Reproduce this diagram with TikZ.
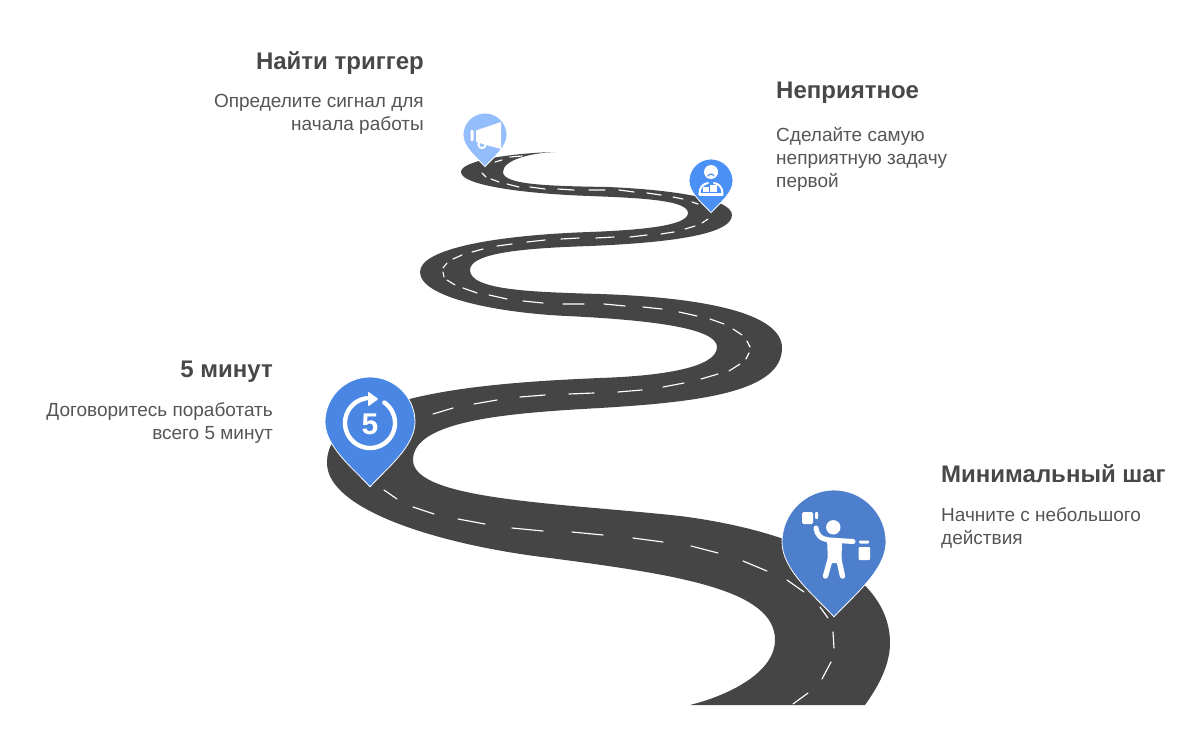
\documentclass[tikz,border=0pt]{standalone}
\usepackage{fontspec}
\setmainfont{Liberation Sans}
\definecolor{road}{HTML}{454545}
\definecolor{titlec}{HTML}{484848}
\definecolor{bodyc}{HTML}{555555}
\definecolor{pinA}{HTML}{93BDFB}
\definecolor{pinB}{HTML}{4A90F5}
\definecolor{pinC}{HTML}{4A86E3}
\definecolor{pinD}{HTML}{4E7FCC}
\tikzset{
  roadline/.style={line width=1.15pt,white,line cap=round},
  headtext/.style={inner sep=0pt,text=titlec,font=\fontsize{24}{28}\selectfont\bfseries},
  bodytext/.style={inner sep=0pt,text=bodyc,font=\fontsize{19}{23}\selectfont},
  pinedge/.style={draw=white,line width=.8pt},
  ico/.style={fill=white,draw=none},
  icol/.style={draw=white,line cap=round,line join=round},
}
\newcommand{\pinshape}[4]{% colour, cx, cy, r
  \path[pinedge,fill=#1,shift={(#2,#3)},x=#4pt,y=-#4pt]
    (0,1.44) .. controls (-.35,1.05) and (-1,.55) .. (-1,0)
    .. controls (-1,-.552) and (-.552,-1) .. (0,-1)
    .. controls (.552,-1) and (1,-.552) .. (1,0)
    .. controls (1,.55) and (.35,1.05) .. (0,1.44) -- cycle;}
\begin{document}
\begin{tikzpicture}[x=1pt,y=-1pt]
\useasboundingbox (0,0) rectangle (1200,755);
\fill[white] (0,0) rectangle (1200,755);
% road
\fill[road]
  (555,152) .. controls (515,153) and (461,160) .. (461,172)
  .. controls (461,186) and (530,194) .. (590,196)
  .. controls (640,198) and (688,200) .. (688,213)
  .. controls (688,226) and (640,230) .. (590,232)
  .. controls (500,235) and (420,248) .. (420,272)
  .. controls (420,298) and (500,313) .. (567,316)
  .. controls (650,320) and (717,328) .. (717,347)
  .. controls (717,368) and (660,376) .. (600,378)
  .. controls (480,383) and (327,395) .. (327,463)
  .. controls (327,510) and (440,545) .. (550,558)
  .. controls (680,575) and (775,590) .. (775,640)
  .. controls (775,672) and (730,695) .. (690,705)
  -- (865,705)
  .. controls (883,680) and (890,660) .. (890,643)
  .. controls (890,570) and (790,530) .. (680,516)
  .. controls (560,503) and (413,500) .. (413,460)
  .. controls (413,420) and (510,413) .. (600,408)
  .. controls (700,402) and (782,392) .. (782,348)
  .. controls (782,310) and (690,297) .. (600,294)
  .. controls (530,292) and (470,290) .. (470,270)
  .. controls (470,252) and (530,248) .. (590,246)
  .. controls (660,243) and (732,236) .. (732,215)
  .. controls (732,197) and (660,189) .. (607,187)
  .. controls (550,186) and (503,185) .. (503,172)
  .. controls (503,160) and (530,153) .. (555,152) -- cycle;
% centre line
\draw[roadline]
  (510,157)--(522,156) (495,162)--(502,160) (482,173)--(486,177) (491,179)--(499,182)
  (507,184)--(519,187) (530,187)--(545,189) (558,189)--(574,190) (589,190)--(605,190)
  (619,190)--(634,192) (647,193)--(661,195) (673,197)--(683,199) (692,202)--(698,204)
  (708,219)--(702,223) (695,226)--(685,229) (674,232)--(661,234) (647,235)--(630,237)
  (614,237)--(596,238) (579,238)--(561,239) (545,240)--(527,242) (512,244)--(497,246)
  (483,249)--(472,252) (462,255)--(453,259) (447,263)--(443,268) (443,272)--(444,277)
  (447,280)--(455,285) (463,288)--(477,293) (489,295)--(507,299) (523,301)--(543,303)
  (563,304)--(584,304) (604,304)--(625,306) (643,307)--(662,309) (679,312)--(697,316)
  (710,319)--(724,324) (733,329)--(742,335) (747,341)--(750,347) (749,353)--(746,359)
  (740,364)--(729,371) (718,374)--(701,379) (684,383)--(663,387) (642,390)--(618,392)
  (594,393)--(569,394) (545,395)--(520,397) (497,400)--(474,404) (453,408)--(433,414)
  (384,490)--(397,499) (413,507)--(434,514) (458,519)--(485,524) (512,528)--(543,531)
  (572,532)--(603,535) (633,538)--(663,542) (691,546)--(718,553) (743,561)--(767,571)
  (787,580)--(804,592) (820,607)--(828,618) (833,632)--(834,648) (831,662)--(822,679)
  (808,693)--(793,704);
% pins
\pinshape{pinA}{485}{135}{22}
\pinshape{pinB}{711}{181}{22}
\pinshape{pinC}{370}{422}{45}
\pinshape{pinD}{834}{542}{52}
% megaphone
\draw[icol,line width=2pt] (482,144.5) circle[radius=3.6];
\fill[ico] (476,130.5) -- (501,122) -- (501,149) -- (490,146) -- (476,142) -- cycle;
\fill[ico,rounded corners=.8pt] (470.5,130) rectangle (473.5,141);
% person with desk
\fill[ico] (711,172) circle[radius=7];
\draw[pinB,line width=1.2pt,line cap=round] (708,176) .. controls (709,173.5) and (713,173.5) .. (714,176);
\draw[icol,line width=2pt] (699.5,194) .. controls (699.5,187) and (703,184) .. (708,183)
  (714,183) .. controls (719,184) and (722.5,187) .. (722.5,194);
\draw[icol,line width=2.2pt] (699.5,194.5) -- (722.5,194.5);
\fill[ico] (703,187) rectangle (708.5,191.5);
\fill[ico] (710,184.5) rectangle (717,191.5);
% five minutes
\draw[icol,line width=4.4pt,line cap=round]
  plot[smooth,domain=-55:262,samples=50] ({370+25*cos(\x)},{423+25*sin(\x)});
\fill[ico,rounded corners=1pt] (368,391.5) -- (378.5,399) -- (368,406.5) -- cycle;
\node[inner sep=0pt,text=white,font=\fontsize{30}{30}\selectfont\bfseries] (five) at (370,424) {5};
% person with boxes
\fill[ico] (833.3,527.3) circle[radius=7.2];
\fill[ico,rounded corners=1.5pt] (802,512) rectangle (813,524);
\fill[ico,rounded corners=1pt] (815,512) rectangle (818,519);
\fill[ico,rounded corners=1pt] (858.5,547) rectangle (870,560);
\fill[ico,rounded corners=1pt] (859,540.5) rectangle (869,543.5);
\draw[icol,line width=5pt] (816,528) .. controls (817,535) and (820,539) .. (830,540) -- (853,541.5);
\fill[ico,rounded corners=1.5pt] (827,538) -- (842,538) -- (841.5,563) -- (828,563) -- cycle;
\draw[icol,line width=5.4pt] (830.5,558) -- (825.5,576) (838.5,558) -- (842.5,576);
% texts
\node[headtext,anchor=base east] (t1) at (424,69) {Найти триггер};
\node[bodytext,anchor=north east,align=right] (b1) at (424,94) {Определите сигнал для\\начала работы};
\node[headtext,anchor=base west] (t2) at (776,98) {Неприятное};
\node[bodytext,anchor=north west,align=left] (b2) at (776,127) {Сделайте самую\\неприятную задачу\\первой};
\node[headtext,anchor=base east] (t3) at (273,377) {5 минут};
\node[bodytext,anchor=north east,align=right] (b3) at (273,402) {Договоритесь поработать\\всего 5 минут};
\node[headtext,anchor=base west] (t4) at (941,482) {Минимальный шаг};
\node[bodytext,anchor=north west,align=left] (b4) at (941,507) {Начните с небольшого\\действия};
\end{tikzpicture}
\end{document}
